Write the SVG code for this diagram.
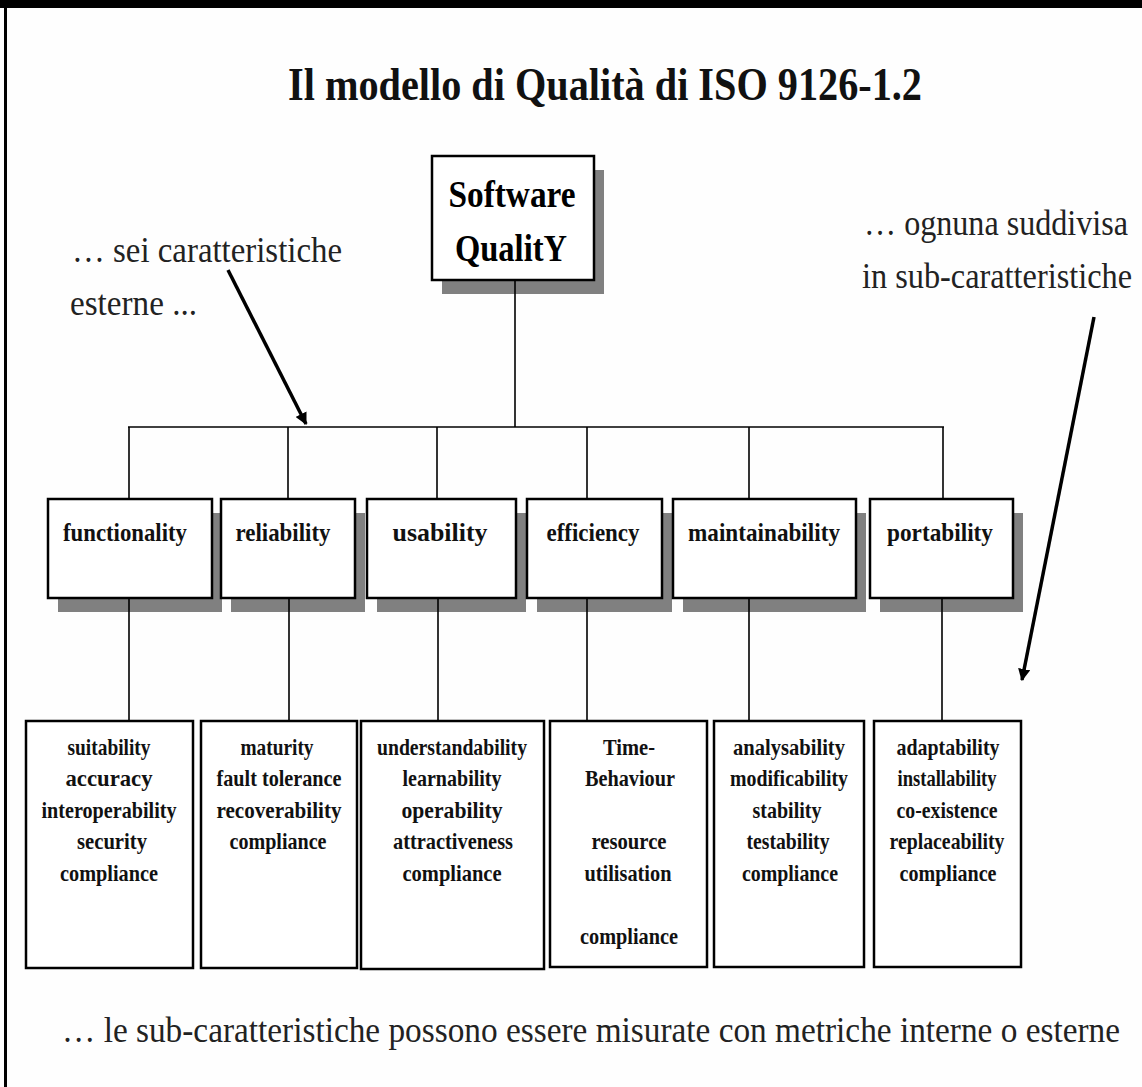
<svg xmlns="http://www.w3.org/2000/svg" width="1142" height="1087" viewBox="0 0 1142 1087">
<style>
.bg{fill:#fefefe}
.shadow{fill:#808080}
.box{fill:#ffffff;stroke:#000;stroke-width:2.5}
.conn{stroke:#000;stroke-width:1.6;fill:none}
.arrow{stroke:#000;stroke-width:3.5;fill:none}
.title{font-family:"Liberation Serif",serif;font-size:47px;font-weight:bold;fill:#111}
.side{font-family:"Liberation Serif",serif;font-size:35px;fill:#222}
.root{font-family:"Liberation Serif",serif;font-size:37px;font-weight:bold;fill:#000;text-anchor:middle}
.lab{font-family:"Liberation Serif",serif;font-size:26px;font-weight:bold;fill:#111;text-anchor:middle}
.sub{font-family:"Liberation Serif",serif;font-size:24px;font-weight:bold;fill:#111;text-anchor:middle}
</style>
<defs>
<marker id="ah" viewBox="0 0 10 10" refX="9" refY="5" markerWidth="3.5" markerHeight="3.5" orient="auto" markerUnits="strokeWidth">
<path d="M0,0 L10,5 L0,10 z" fill="#000"/>
</marker>
</defs>
<rect class="bg" x="0" y="0" width="1142" height="1087"/>
<rect x="0" y="0" width="1142" height="8" fill="#000"/>
<rect x="4" y="0" width="3" height="1087" fill="#000"/>

<text class="title" x="288" y="100" textLength="634" lengthAdjust="spacingAndGlyphs">Il modello di Qualità di  ISO 9126-1.2</text>

<g id="note-left">
<text class="side" x="72" y="262" textLength="270" lengthAdjust="spacingAndGlyphs">… sei caratteristiche</text>
<text class="side" x="70" y="315" textLength="127" lengthAdjust="spacingAndGlyphs">esterne ...</text>
</g>
<g id="note-right">
<g transform="translate(864,235) scale(0.8,1)"><text class="side" x="0" y="0" textLength="330" lengthAdjust="spacingAndGlyphs">… ognuna suddivisa</text></g>
<g transform="translate(862,288) scale(0.8,1)"><text class="side" x="0" y="0" textLength="337.5" lengthAdjust="spacingAndGlyphs">in sub-caratteristiche</text></g>
</g>
<g id="note-bottom">
<g transform="translate(62,1042) scale(0.8,1)"><text class="side" x="0" y="0" textLength="1322.5" lengthAdjust="spacingAndGlyphs">… le sub-caratteristiche possono essere misurate con metriche interne o esterne</text></g>
</g>

<g id="software-quality">
<rect class="shadow" x="442" y="170" width="162" height="124"/>
<rect class="box" x="432" y="156" width="162" height="124"/>
<text class="root" x="512" y="207" textLength="127" lengthAdjust="spacingAndGlyphs">Software</text>
<text class="root" x="511" y="261" textLength="112" lengthAdjust="spacingAndGlyphs">QualitY</text>
</g>

<g id="functionality">
<rect class="shadow" x="58" y="513" width="164" height="99"/>
<rect class="box" x="48" y="499" width="164" height="99"/>
<text class="lab" x="125" y="541" textLength="124" lengthAdjust="spacingAndGlyphs">functionality</text>
</g>
<g id="reliability">
<rect class="shadow" x="231" y="513" width="134" height="99"/>
<rect class="box" x="221" y="499" width="134" height="99"/>
<text class="lab" x="283" y="541" textLength="95" lengthAdjust="spacingAndGlyphs">reliability</text>
</g>
<g id="usability">
<rect class="shadow" x="377" y="513" width="149" height="99"/>
<rect class="box" x="367" y="499" width="149" height="99"/>
<text class="lab" x="440" y="541" textLength="95" lengthAdjust="spacingAndGlyphs">usability</text>
</g>
<g id="efficiency">
<rect class="shadow" x="537" y="513" width="135" height="99"/>
<rect class="box" x="527" y="499" width="135" height="99"/>
<text class="lab" x="593" y="541" textLength="93" lengthAdjust="spacingAndGlyphs">efficiency</text>
</g>
<g id="maintainability">
<rect class="shadow" x="683" y="513" width="183" height="99"/>
<rect class="box" x="673" y="499" width="183" height="99"/>
<text class="lab" x="764" y="541" textLength="152" lengthAdjust="spacingAndGlyphs">maintainability</text>
</g>
<g id="portability">
<rect class="shadow" x="880" y="513" width="143" height="99"/>
<rect class="box" x="870" y="499" width="143" height="99"/>
<text class="lab" x="940" y="541" textLength="106" lengthAdjust="spacingAndGlyphs">portability</text>
</g>

<g id="sub-functionality">
<rect class="box" x="26" y="721" width="167" height="247"/>
<text class="sub" x="109" y="755" textLength="83" lengthAdjust="spacingAndGlyphs">suitability</text>
<text class="sub" x="109" y="786" textLength="87" lengthAdjust="spacingAndGlyphs">accuracy</text>
<text class="sub" x="109" y="818" textLength="135" lengthAdjust="spacingAndGlyphs">interoperability</text>
<text class="sub" x="112" y="849" textLength="70" lengthAdjust="spacingAndGlyphs">security</text>
<text class="sub" x="109" y="881" textLength="98" lengthAdjust="spacingAndGlyphs">compliance</text>
</g>
<g id="sub-reliability">
<rect class="box" x="201" y="721" width="156" height="247"/>
<text class="sub" x="277" y="755" textLength="73" lengthAdjust="spacingAndGlyphs">maturity</text>
<text class="sub" x="279" y="786" textLength="125" lengthAdjust="spacingAndGlyphs">fault tolerance</text>
<text class="sub" x="279" y="818" textLength="125" lengthAdjust="spacingAndGlyphs">recoverability</text>
<text class="sub" x="278" y="849" textLength="97" lengthAdjust="spacingAndGlyphs">compliance</text>
</g>
<g id="sub-usability">
<rect class="box" x="361" y="721" width="183" height="248"/>
<text class="sub" x="452" y="755" textLength="150" lengthAdjust="spacingAndGlyphs">understandability</text>
<text class="sub" x="452" y="786" textLength="99" lengthAdjust="spacingAndGlyphs">learnability</text>
<text class="sub" x="452" y="818" textLength="101" lengthAdjust="spacingAndGlyphs">operability</text>
<text class="sub" x="453" y="849" textLength="120" lengthAdjust="spacingAndGlyphs">attractiveness</text>
<text class="sub" x="452" y="881" textLength="99" lengthAdjust="spacingAndGlyphs">compliance</text>
</g>
<g id="sub-efficiency">
<rect class="box" x="550" y="721" width="157" height="246"/>
<text class="sub" x="629" y="755" textLength="52" lengthAdjust="spacingAndGlyphs">Time-</text>
<text class="sub" x="630" y="786" textLength="90" lengthAdjust="spacingAndGlyphs">Behaviour</text>
<text class="sub" x="629" y="849" textLength="75" lengthAdjust="spacingAndGlyphs">resource</text>
<text class="sub" x="628" y="881" textLength="87" lengthAdjust="spacingAndGlyphs">utilisation</text>
<text class="sub" x="629" y="944" textLength="98" lengthAdjust="spacingAndGlyphs">compliance</text>
</g>
<g id="sub-maintainability">
<rect class="box" x="714" y="721" width="150" height="246"/>
<text class="sub" x="789" y="755" textLength="112" lengthAdjust="spacingAndGlyphs">analysability</text>
<text class="sub" x="789" y="786" textLength="118" lengthAdjust="spacingAndGlyphs">modificability</text>
<text class="sub" x="787" y="818" textLength="69" lengthAdjust="spacingAndGlyphs">stability</text>
<text class="sub" x="788" y="849" textLength="83" lengthAdjust="spacingAndGlyphs">testability</text>
<text class="sub" x="790" y="881" textLength="96" lengthAdjust="spacingAndGlyphs">compliance</text>
</g>
<g id="sub-portability">
<rect class="box" x="874" y="721" width="147" height="246"/>
<text class="sub" x="948" y="755" textLength="103" lengthAdjust="spacingAndGlyphs">adaptability</text>
<text class="sub" x="947" y="786" textLength="99" lengthAdjust="spacingAndGlyphs">installability</text>
<text class="sub" x="947" y="818" textLength="101" lengthAdjust="spacingAndGlyphs">co-existence</text>
<text class="sub" x="947" y="849" textLength="115" lengthAdjust="spacingAndGlyphs">replaceability</text>
<text class="sub" x="948" y="881" textLength="97" lengthAdjust="spacingAndGlyphs">compliance</text>
</g>

<g id="connectors">
<line class="conn" x1="515" y1="281" x2="515" y2="427"/>
<line class="conn" x1="128" y1="427" x2="944" y2="427"/>
<line class="conn" x1="129" y1="427" x2="129" y2="499"/>
<line class="conn" x1="288" y1="427" x2="288" y2="499"/>
<line class="conn" x1="437" y1="427" x2="437" y2="499"/>
<line class="conn" x1="587" y1="427" x2="587" y2="499"/>
<line class="conn" x1="749" y1="427" x2="749" y2="499"/>
<line class="conn" x1="943" y1="427" x2="943" y2="499"/>
<line class="conn" x1="129" y1="599" x2="129" y2="721"/>
<line class="conn" x1="289" y1="599" x2="289" y2="721"/>
<line class="conn" x1="438" y1="599" x2="438" y2="721"/>
<line class="conn" x1="587" y1="599" x2="587" y2="721"/>
<line class="conn" x1="749" y1="599" x2="749" y2="721"/>
<line class="conn" x1="942" y1="599" x2="942" y2="721"/>
<line class="arrow" x1="228" y1="270" x2="306" y2="424" marker-end="url(#ah)"/>
<line class="arrow" x1="1094" y1="317" x2="1022" y2="680" marker-end="url(#ah)"/>
</g>
</svg>
